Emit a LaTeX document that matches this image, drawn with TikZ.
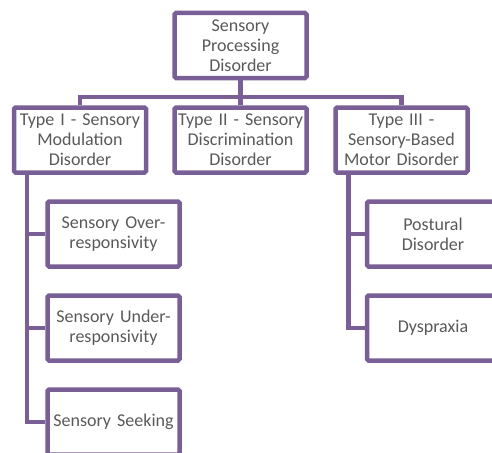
\documentclass[tikz,border=0pt]{standalone}
\usepackage{fontspec}
\setmainfont{Carlito}
\usepackage{tikz}
\usetikzlibrary{positioning}
\definecolor{spdpurple}{HTML}{7A5E96}
\definecolor{spdtext}{HTML}{595959}
\tikzset{
  box/.style={draw=spdpurple, line width=4.5pt, rounded corners=1.5pt,
    minimum width=132pt, minimum height=65pt, inner sep=2pt,
    text width=128pt, align=center, text=spdtext,
    font=\fontsize{18}{20}\selectfont},
  link/.style={draw=spdpurple, line width=4.5pt}
}
\begin{document}
\begin{tikzpicture}[x=1pt, y=-1pt]
%%%%% Frame %%%%%
\useasboundingbox (0,0) rectangle (492,452);
\clip (0,0) rectangle (492,452);
%%%%% Boxes %%%%%
\node[box] (spd) at (240.5,45.5) {Sensory\\Processing\\Disorder};
\node[box] (typeI) at (80,140) {Type I - Sensory\\Modulation\\Disorder};
\node[box] (typeII) at (240.5,140) {Type II - Sensory\\Discrimination\\Disorder};
\node[box] (typeIII) at (401.5,140) {Type III -\\Sensory-Based\\Motor Disorder};

\node[box] (over) at (113.5,234) {Sensory Over-\\responsivity};
\node[box] (under) at (113.5,328) {Sensory Under-\\responsivity};
\node[box] (seek) at (113.5,422) {Sensory Seeking};

\node[box] (postural) at (433,234) {Postural\\Disorder};
\node[box] (dysp) at (433,328) {Dyspraxia};
%%%%% Links %%%%%
\coordinate (bus) at (240.5,97);
\draw[link] (spd.south) -- (bus);
\draw[link] (typeI.north) |- (bus) -| (typeIII.north);
\draw[link] (typeII.north) -- (bus);

\draw[link] ([xshift=15pt]typeI.south west) |- (over.west);
\draw[link] ([xshift=15pt]typeI.south west) |- (under.west);
\draw[link] ([xshift=15pt]typeI.south west) |- (seek.west);

\draw[link] ([xshift=15pt]typeIII.south west) |- (postural.west);
\draw[link] ([xshift=15pt]typeIII.south west) |- (dysp.west);
\end{tikzpicture}
\end{document}
